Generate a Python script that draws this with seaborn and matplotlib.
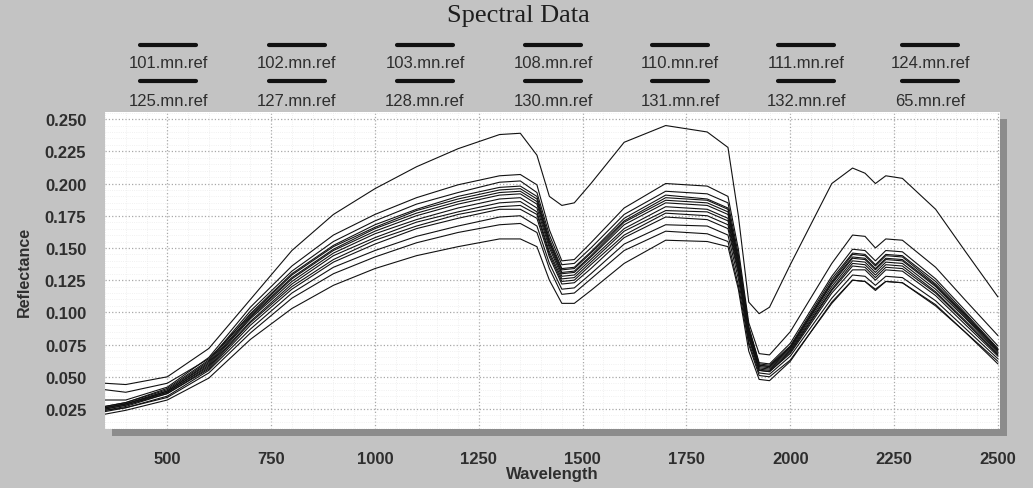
import numpy as np
import pandas as pd
import matplotlib
matplotlib.use("Agg")
import matplotlib.pyplot as plt
from matplotlib.lines import Line2D
from matplotlib.ticker import MultipleLocator
import seaborn as sns

# ---------------- data ----------------
wavelength = [350, 400, 500, 600, 700, 800, 900, 1000, 1100, 1200, 1300, 1350, 1390, 1420,
              1450, 1480, 1520, 1600, 1700, 1800, 1850, 1875, 1900, 1925, 1950, 2000, 2100,
              2150, 2180, 2205, 2230, 2270, 2350, 2420, 2500]

s101 = [0.032,0.032,0.042,0.065,0.104,0.136,0.160,0.176,0.189,0.199,0.206,0.207,0.199,0.164,0.140,0.141,0.154,0.181,0.200,0.198,0.190,0.149,0.092,0.068,0.067,0.085,0.138,0.160,0.159,0.150,0.157,0.156,0.135,0.110,0.082]
s102 = [0.027,0.030,0.041,0.063,0.101,0.132,0.155,0.171,0.184,0.193,0.201,0.202,0.193,0.160,0.137,0.138,0.150,0.176,0.194,0.192,0.185,0.145,0.089,0.061,0.060,0.076,0.128,0.149,0.148,0.140,0.148,0.147,0.126,0.102,0.074]
s103 = [0.027,0.030,0.040,0.062,0.099,0.130,0.152,0.168,0.180,0.190,0.197,0.198,0.190,0.157,0.134,0.135,0.147,0.173,0.191,0.188,0.181,0.142,0.088,0.060,0.059,0.074,0.126,0.146,0.145,0.137,0.145,0.144,0.124,0.100,0.072]
s108 = [0.040,0.038,0.045,0.064,0.098,0.129,0.151,0.166,0.179,0.188,0.195,0.196,0.188,0.155,0.133,0.134,0.146,0.171,0.189,0.187,0.180,0.141,0.087,0.059,0.058,0.073,0.124,0.145,0.144,0.136,0.144,0.143,0.122,0.099,0.071]
s110 = [0.026,0.029,0.039,0.061,0.097,0.127,0.149,0.165,0.177,0.186,0.193,0.194,0.186,0.154,0.131,0.132,0.144,0.170,0.187,0.185,0.178,0.139,0.086,0.059,0.058,0.073,0.123,0.143,0.142,0.134,0.142,0.141,0.121,0.098,0.071]
s111 = [0.026,0.029,0.039,0.060,0.096,0.126,0.148,0.163,0.175,0.184,0.191,0.192,0.184,0.152,0.130,0.131,0.143,0.168,0.185,0.183,0.176,0.138,0.085,0.058,0.057,0.072,0.122,0.142,0.141,0.133,0.141,0.140,0.120,0.097,0.070]
s124 = [0.026,0.029,0.038,0.059,0.095,0.124,0.146,0.161,0.172,0.181,0.188,0.189,0.181,0.150,0.128,0.129,0.141,0.165,0.182,0.180,0.173,0.136,0.084,0.057,0.056,0.071,0.120,0.140,0.139,0.131,0.139,0.138,0.118,0.096,0.069]
s125 = [0.025,0.028,0.038,0.058,0.093,0.122,0.144,0.158,0.170,0.178,0.185,0.186,0.178,0.147,0.126,0.127,0.139,0.163,0.179,0.178,0.171,0.134,0.082,0.056,0.055,0.070,0.118,0.138,0.137,0.129,0.137,0.136,0.116,0.094,0.068]
s127 = [0.025,0.028,0.037,0.057,0.092,0.120,0.141,0.156,0.167,0.176,0.182,0.183,0.176,0.145,0.124,0.125,0.137,0.160,0.177,0.175,0.168,0.132,0.081,0.055,0.054,0.069,0.117,0.136,0.135,0.127,0.135,0.134,0.115,0.093,0.067]
s128 = [0.024,0.027,0.037,0.056,0.090,0.118,0.139,0.153,0.165,0.173,0.180,0.180,0.173,0.143,0.122,0.123,0.134,0.158,0.174,0.172,0.165,0.130,0.080,0.055,0.054,0.068,0.115,0.133,0.133,0.125,0.133,0.132,0.113,0.091,0.066]
s130 = [0.024,0.026,0.035,0.055,0.087,0.115,0.135,0.148,0.159,0.167,0.174,0.175,0.167,0.138,0.118,0.119,0.130,0.153,0.168,0.167,0.160,0.126,0.077,0.053,0.052,0.066,0.111,0.129,0.128,0.121,0.128,0.127,0.109,0.088,0.064]
s131 = [0.023,0.026,0.034,0.053,0.084,0.111,0.130,0.143,0.154,0.162,0.168,0.169,0.162,0.134,0.114,0.115,0.126,0.148,0.163,0.161,0.155,0.121,0.075,0.051,0.050,0.063,0.107,0.125,0.124,0.117,0.124,0.123,0.106,0.085,0.062]
s132 = [0.021,0.024,0.032,0.049,0.079,0.103,0.121,0.134,0.144,0.151,0.157,0.157,0.151,0.125,0.107,0.107,0.117,0.138,0.156,0.155,0.151,0.118,0.070,0.048,0.047,0.062,0.108,0.125,0.124,0.118,0.124,0.123,0.105,0.085,0.060]
s65  = [0.045,0.044,0.050,0.072,0.110,0.148,0.176,0.196,0.213,0.227,0.238,0.239,0.222,0.190,0.183,0.185,0.200,0.232,0.245,0.240,0.228,0.175,0.108,0.099,0.104,0.137,0.200,0.212,0.208,0.200,0.206,0.204,0.180,0.148,0.112]

series_names = ["101.mn.ref", "102.mn.ref", "103.mn.ref", "108.mn.ref", "110.mn.ref",
                "111.mn.ref", "124.mn.ref", "125.mn.ref", "127.mn.ref", "128.mn.ref",
                "130.mn.ref", "131.mn.ref", "132.mn.ref", "65.mn.ref"]
series_values = [s101, s102, s103, s108, s110, s111, s124, s125, s127, s128,
                 s130, s131, s132, s65]

x_ticks = [500, 750, 1000, 1250, 1500, 1750, 2000, 2250, 2500]
y_ticks = [0.025, 0.050, 0.075, 0.100, 0.125, 0.150, 0.175, 0.200, 0.225, 0.250]

# ---------------- figure ----------------
W, H = 1033, 489
BG = "#c3c3c3"
TXT = "#2e2e2e"
sns.set_style("white")
plt.rcParams["font.family"] = ["Liberation Sans", "DejaVu Sans"]

fig = plt.figure(figsize=(W / 100, H / 100), dpi=100, facecolor=BG)

ax_l, ax_r, ax_t, ax_b = 105, 1000, 113, 430

# 3D-ish shadow frame right and bottom (drawn as a background axes)
shadow_ax = fig.add_axes([(ax_l + 7) / W, 1 - (ax_b + 7) / H, (ax_r - ax_l) / W, (ax_b - ax_t) / H])
shadow_ax.set_facecolor("#8c8c8c")
shadow_ax.set_xticks([])
shadow_ax.set_yticks([])
for sp in shadow_ax.spines.values():
    sp.set_visible(False)
shadow_ax.set_zorder(-1)

ax = fig.add_axes([ax_l / W, 1 - ax_b / H, (ax_r - ax_l) / W, (ax_b - ax_t) / H])
ax.set_facecolor("white")
ax.set_zorder(1)

rows = []
for name, vals in zip(series_names, series_values):
    for w, v in zip(wavelength, vals):
        rows.append((name, w, v))
df = pd.DataFrame(rows, columns=["series", "Wavelength", "Reflectance"])

sns.lineplot(data=df, x="Wavelength", y="Reflectance", units="series", estimator=None,
             color="#111111", linewidth=0.8, ax=ax, legend=False, zorder=3)

ax.set_xlim(350, 2505)
ax.set_ylim(0.0095, 0.2555)
ax.set_xticks(x_ticks)
ax.set_yticks(y_ticks)
ax.set_xticklabels([str(t) for t in x_ticks])
ax.set_yticklabels([f"{t:.3f}" for t in y_ticks])
ax.xaxis.set_minor_locator(MultipleLocator(50))
ax.yaxis.set_minor_locator(MultipleLocator(0.005))

ax.grid(True, which="major", color="#a8a8a8", linestyle=":", linewidth=0.9)
ax.grid(True, which="minor", color="#ececec", linestyle=":", linewidth=0.6)
ax.set_axisbelow(True)

ax.tick_params(axis="both", which="major", direction="in", length=0,
               labelsize=12, labelcolor=TXT)
for lab in ax.get_xticklabels() + ax.get_yticklabels():
    lab.set_fontweight("bold")
ax.tick_params(axis="x", which="major", pad=16)
ax.tick_params(axis="y", which="major", pad=13.5)
ax.tick_params(axis="x", which="minor", direction="in", length=7, color="#777777", width=0.8)
ax.tick_params(axis="y", which="minor", direction="in", length=4, color="#bbbbbb", width=0.6)

for sp in ax.spines.values():
    sp.set_visible(False)

ax.set_xlabel("Wavelength", fontsize=12, fontweight="bold", color=TXT, labelpad=0)
ax.set_ylabel("Reflectance", fontsize=11.5, fontweight="bold", color=TXT, labelpad=9)

# title
fig.text(518 / W, 1 - 16 / H, "Spectral Data", ha="center", va="center",
         fontsize=19, family=["Liberation Serif", "DejaVu Serif"], color="#1e1e1e")

# legend (2 rows x 7 cols): line segment above label
col_x = [168, 297, 425, 553, 680, 806, 930]
row_line_y = [46, 82]
row_text_y = [64, 101]
for i, name in enumerate(series_names):
    r, c = divmod(i, 7)
    cx = col_x[c]
    fig.add_artist(Line2D([(cx - 28) / W, (cx + 28) / W],
                          [1 - row_line_y[r] / H, 1 - row_line_y[r] / H],
                          transform=fig.transFigure, color="#111111", linewidth=3))
    fig.text(cx / W, 1 - row_text_y[r] / H, name, ha="center", va="center",
             fontsize=12, color=TXT)

fig.savefig("out.png", dpi=100, facecolor=BG)
